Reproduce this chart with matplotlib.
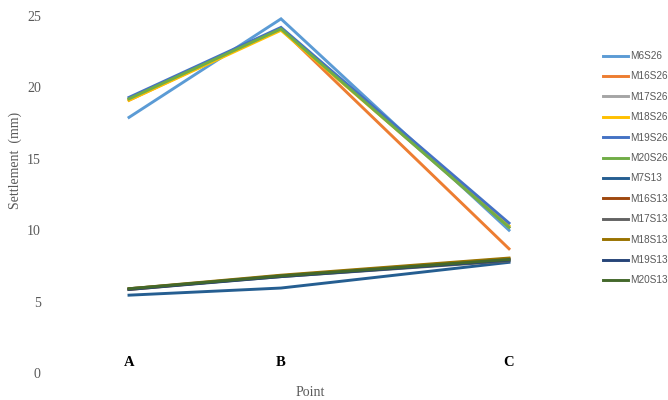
import matplotlib
matplotlib.use("Agg")
import matplotlib.pyplot as plt

# Measurement points and their positions along the section
points = ["A", "B", "C"]
point_pos = [0, 2, 5]

series_names = ["M6S26", "M16S26", "M17S26", "M18S26", "M19S26", "M20S26",
                "M7S13", "M16S13", "M17S13", "M18S13", "M19S13", "M20S13"]

M6S26 = [17.9, 24.8, 10.0]
M16S26 = [19.1, 24.1, 8.7]
M17S26 = [19.2, 24.1, 10.2]
M18S26 = [19.1, 24.0, 10.3]
M19S26 = [19.3, 24.2, 10.5]
M20S26 = [19.2, 24.1, 10.2]
M7S13 = [5.45, 5.95, 7.75]
M16S13 = [5.85, 6.8, 8.0]
M17S13 = [5.9, 6.75, 7.85]
M18S13 = [5.9, 6.85, 8.05]
M19S13 = [5.85, 6.75, 7.9]
M20S13 = [5.9, 6.8, 7.95]

values = [M6S26, M16S26, M17S26, M18S26, M19S26, M20S26,
          M7S13, M16S13, M17S13, M18S13, M19S13, M20S13]

colors = ["#5B9BD5", "#ED7D31", "#A5A5A5", "#FFC000", "#4472C4", "#70AD47",
          "#255E91", "#9E480E", "#636363", "#997300", "#264478", "#43682B"]

y_ticks = [0, 5, 10, 15, 20, 25]

W, H = 668, 400
fig = plt.figure(figsize=(W / 100, H / 100), dpi=100)

# axes placed in pixel terms
left_px, right_px = 45, 590
top_px, bottom_px = 16, 373
ax = fig.add_axes([left_px / W, (H - bottom_px) / H,
                   (right_px - left_px) / W, (bottom_px - top_px) / H])

px_per_unit = (509 - 129) / (point_pos[-1] - point_pos[0])
ax.set_xlim(-(129 - left_px) / px_per_unit, (right_px - 129) / px_per_unit)
ax.set_ylim(0, 25)

for name, vals, c in zip(series_names, values, colors):
    ax.plot(point_pos, vals, color=c, lw=2.1, label=name, clip_on=False,
            solid_joinstyle="miter")

for s in ax.spines.values():
    s.set_visible(False)

serif = "Liberation Serif"
grey = "#595959"

ax.set_yticks(y_ticks)
ax.set_yticklabels([str(t) for t in y_ticks], fontfamily=serif, fontsize=10, color=grey)
ax.tick_params(axis="y", length=0, pad=3)

ax.set_xticks(point_pos)
ax.set_xticklabels(points, fontfamily=serif, fontsize=10.5, fontweight="bold", color="black")
ax.tick_params(axis="x", length=0, pad=-12.5)

fig.text(310 / W, 1 - 393 / H, "Point", ha="center", va="center",
         fontfamily=serif, fontsize=10, color=grey)
fig.text(15 / W, 1 - 160 / H, "Settlement  (mm)", ha="center", va="center",
         rotation=90, fontfamily=serif, fontsize=10, color=grey)

leg = ax.legend(loc="upper left", bbox_to_anchor=(603 / W, 1 - 51 / H),
                bbox_transform=fig.transFigure, frameon=False,
                prop={"family": "Liberation Sans", "size": 7.2},
                handlelength=2.5, handletextpad=0.2, labelspacing=1.04,
                borderaxespad=0, borderpad=0)
for t in leg.get_texts():
    t.set_color(grey)

fig.savefig("out.png", dpi=100)
